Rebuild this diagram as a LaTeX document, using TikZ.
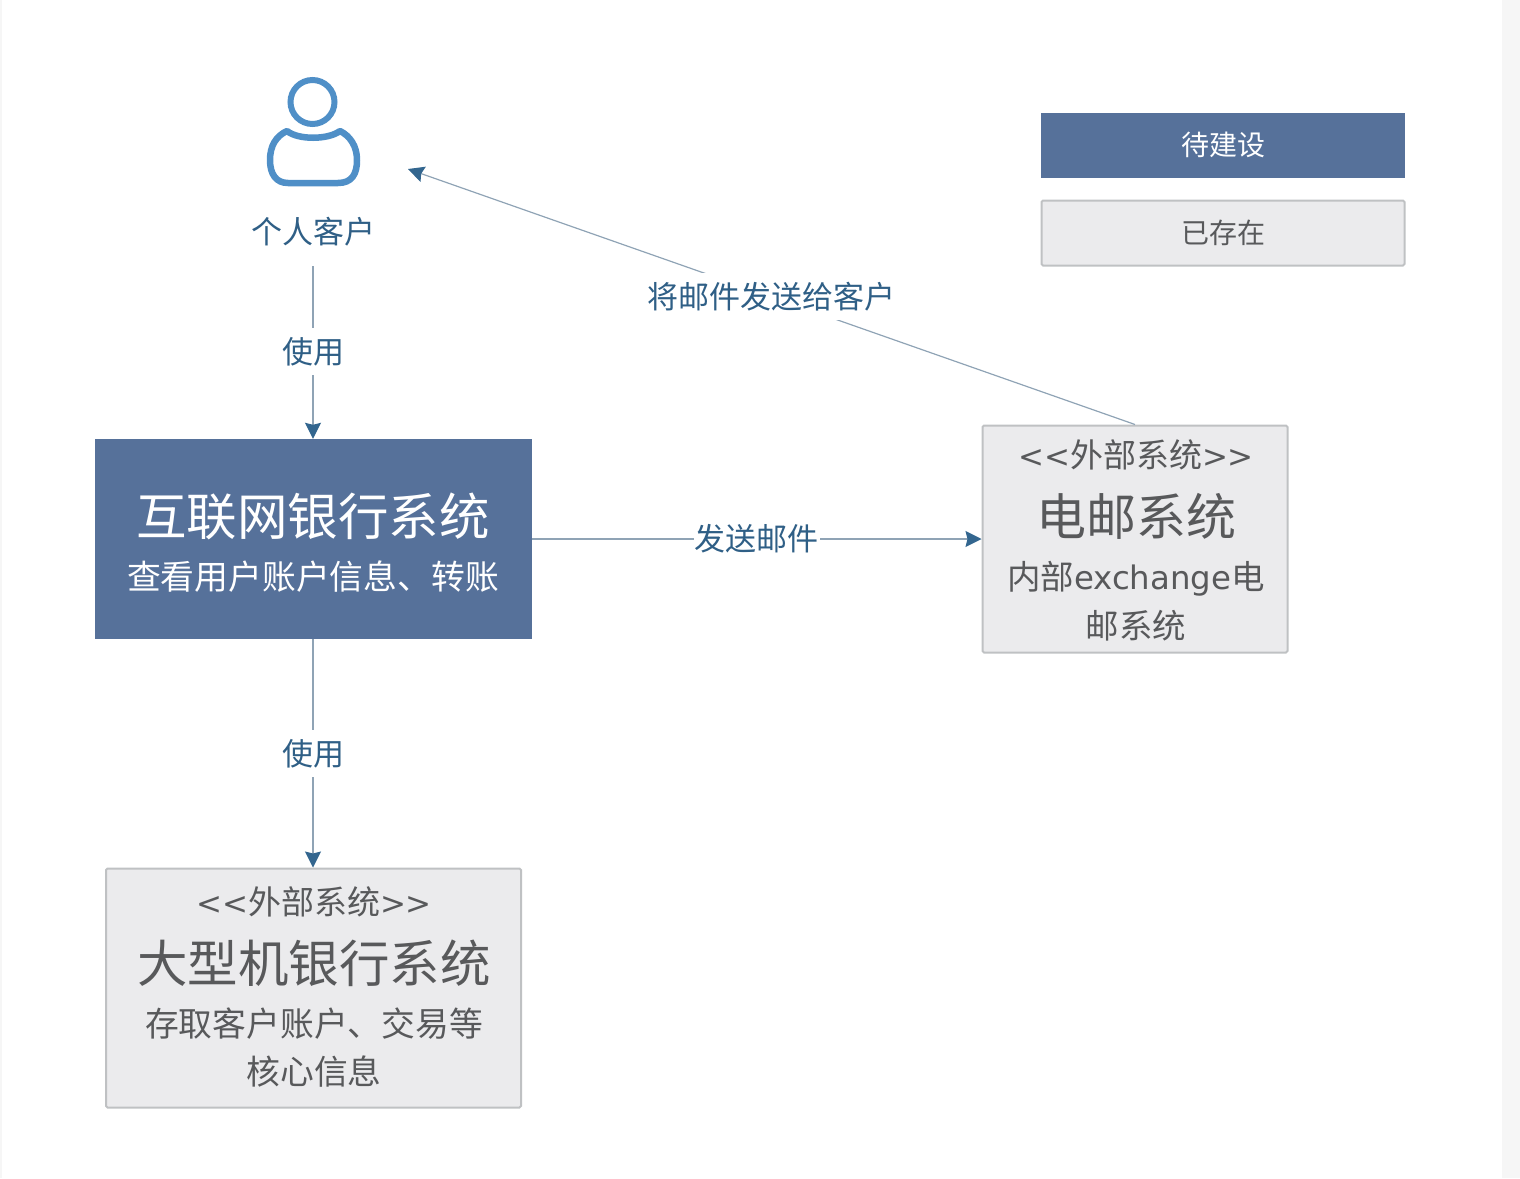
\documentclass[tikz,border=0pt]{standalone}
\usepackage{fontspec}
\setmainfont{Noto Sans CJK SC}
\newfontfamily\latinf{DejaVu Sans}
\usetikzlibrary{arrows.meta}
\definecolor{blueb}{HTML}{56719A}
\definecolor{grayb}{HTML}{EBEBED}
\definecolor{grayl}{HTML}{BFC1C3}
\definecolor{linec}{HTML}{8FA3B5}
\definecolor{tipc}{HTML}{33668F}
\definecolor{labc}{HTML}{2F5F86}
\definecolor{graytx}{HTML}{58595B}
\definecolor{iconc}{HTML}{4F8FC7}
\definecolor{stripc}{HTML}{F6F6F6}
\newcommand{\fs}[1]{\fontsize{#1pt}{#1pt}\selectfont}
\newcommand{\stereo}[1]{{\latinf\fs{31}<<}#1{\latinf\fs{31}>>}}
\tikzset{
  x=1pt,y=-1pt,
  bluebox/.style={fill=blueb,draw=none,text=white,align=center,inner sep=0pt},
  graybox/.style={fill=grayb,draw=grayl,line width=2pt,text=graytx,align=center,inner sep=0pt,rounded corners=1.5pt},
  txt/.style={inner sep=0pt,align=center},
  conn/.style={draw=linec,line width=1.2pt,-{Stealth[length=16pt,width=16pt,inset=2pt,color=tipc]}},
  lab/.style={fill=white,text=labc,inner xsep=1pt,inner ysep=9pt,font=\fs{31}},
}
\begin{document}
\begin{tikzpicture}
\useasboundingbox (0,0) rectangle (1520,1178);
\fill[stripc] (1502,0) rectangle (1520,1178);
\fill[stripc] (0,0) rectangle (2,1178);
% person icon
\draw[iconc,line width=6pt] (312.5,102) circle (22pt);
\draw[iconc,line width=6.5pt,line join=round]
  (287,131) .. controls (298,140) and (328,140) .. (340,131)
  .. controls (350,136) and (357,146) .. (357,160)
  .. controls (357,174) and (352,183) .. (338,183)
  -- (288,183)
  .. controls (276,183) and (270,174) .. (270,160)
  .. controls (270,146) and (276,136) .. (287,131) -- cycle;
\node[txt,text=labc,font=\fs{31}] (person) at (313.5,232) {个人客户};
\coordinate (pb) at (313,266);
\coordinate (pa) at (408,169);
% boxes
\node[bluebox,minimum width=437pt,minimum height=200pt] (bank) at (313.5,539) {};
\node[txt,text=white,font=\fs{50.5}] (bankt) at (313,516) {互联网银行系统};
\node[txt,text=white,font=\fs{33.8}] (bankd) at (313,577) {查看用户账户信息、转账};
\node[graybox,minimum width=305pt,minimum height=227pt] (mail) at (1135,539) {};
\node[txt,text=graytx,font=\fs{33},anchor=base] (mails) at (1136,467) {\stereo{外部系统}};
\node[txt,text=graytx,font=\fs{50}] (mailt) at (1136,516) {电邮系统};
\node[txt,text=graytx,font=\fs{33.5},anchor=base] (maild) at (1136,589) {内部{\latinf\fs{32.4}exchange}电};
\node[txt,text=graytx,font=\fs{33.5}] (maild2) at (1136,626) {邮系统};
\node[graybox,minimum width=415pt,minimum height=239pt] (main) at (313.5,988) {};
\node[txt,text=graytx,font=\fs{33},anchor=base] (mains) at (314,914) {\stereo{外部系统}};
\node[txt,text=graytx,font=\fs{50.5}] (maint) at (314,963) {大型机银行系统};
\node[txt,text=graytx,font=\fs{33.8}] (maind) at (314,1024) {存取客户账户、交易等};
\node[txt,text=graytx,font=\fs{33.8}] (maind2) at (314,1072) {核心信息};
% legend
\node[bluebox,minimum width=364pt,minimum height=65pt] (leg1) at (1223,145) {};
\node[txt,text=white,font=\fs{28}] (leg1t) at (1223,145) {待建设};
\node[graybox,minimum width=363pt,minimum height=65pt] (leg2) at (1223,233) {};
\node[txt,text=graytx,font=\fs{28}] (leg2t) at (1223,233) {已存在};
% connectors
\draw[conn] (pb) -- node[lab,pos=0.495] (l1) {使用} (bank.north -| pb);
\draw[conn] (bank.south -| pb) -- node[lab,pos=0.5] (l2) {使用} (main.north -| pb);
\draw[conn] (bank.east |- mail.west) -- node[lab,pos=0.5] (l3) {发送邮件} (mail.west);
\draw[conn] (mail.north) -- node[lab,pos=0.5] (l4) {将邮件发送给客户} (pa);
\end{tikzpicture}
\end{document}
